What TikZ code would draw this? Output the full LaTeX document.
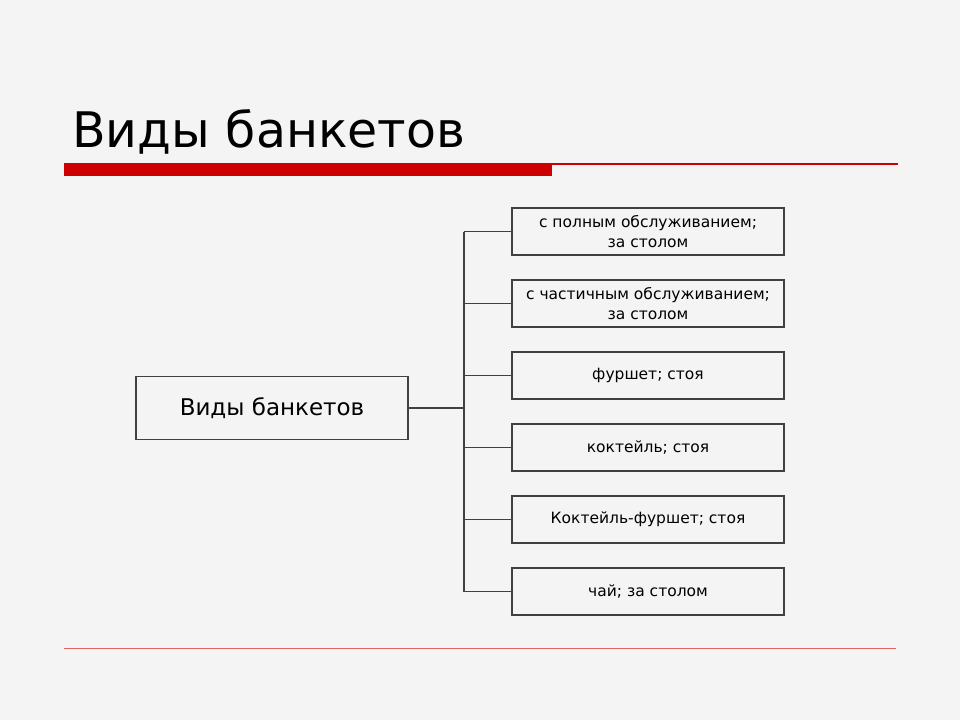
\documentclass[tikz,border=0pt]{standalone}
\usepackage{fontspec}
\setmainfont{DejaVu Sans}
\usetikzlibrary{positioning}
\definecolor{slidebg}{RGB}{244,244,244}
\definecolor{barred}{RGB}{204,0,0}
\definecolor{linegray}{RGB}{64,64,64}

\begin{document}
\begin{tikzpicture}[x=1pt,y=-1pt,node distance=72pt,on grid,
    kind/.style={draw=linegray,line width=1.2pt,minimum width=272pt,
      minimum height=47pt,align=center,font=\fontsize{15.5}{20}\selectfont,inner sep=0pt},
    root/.style={kind,minimum height=63pt,font=\fontsize{23}{26}\selectfont},
    link/.style={draw=linegray,line width=1.2pt}]
       \fill[slidebg] (0,0) rectangle (960,720);
       \node[anchor=base west,font=\fontsize{49}{52}\selectfont,inner sep=0pt] (title) at (72,147) {Виды банкетов};
       \fill[barred] (64,163) rectangle (552,176);
       \draw[barred,line width=1.2pt] (552,164) -- (898,164);
       \draw[barred!60,line width=0.8pt] (64,648) -- (896,648);
       % root and kinds
       \node[root] (vid) at (272,408) {Виды банкетов};
       \node[kind] (k1) at (648,231.5) {с полным обслуживанием;\\за столом};
       \node[kind] (k2) [below=of k1] {с частичным обслуживанием;\\за столом};
       \node[kind] (k3) [below=of k2] {фуршет; стоя};
       \node[kind] (k4) [below=of k3] {коктейль; стоя};
       \node[kind] (k5) [below=of k4] {Коктейль-фуршет; стоя};
       \node[kind] (k6) [below=of k5] {чай; за столом};
       \coordinate (trunk) at (464,408);
       \path[link] (vid) -- (trunk)
         (trunk |- k1) -- (trunk |- k6);
       \foreach \k in {k1,k2,k3,k4,k5,k6}
         \path[link] (trunk |- \k) -- (\k.west);
    \end{tikzpicture}
\end{document}
